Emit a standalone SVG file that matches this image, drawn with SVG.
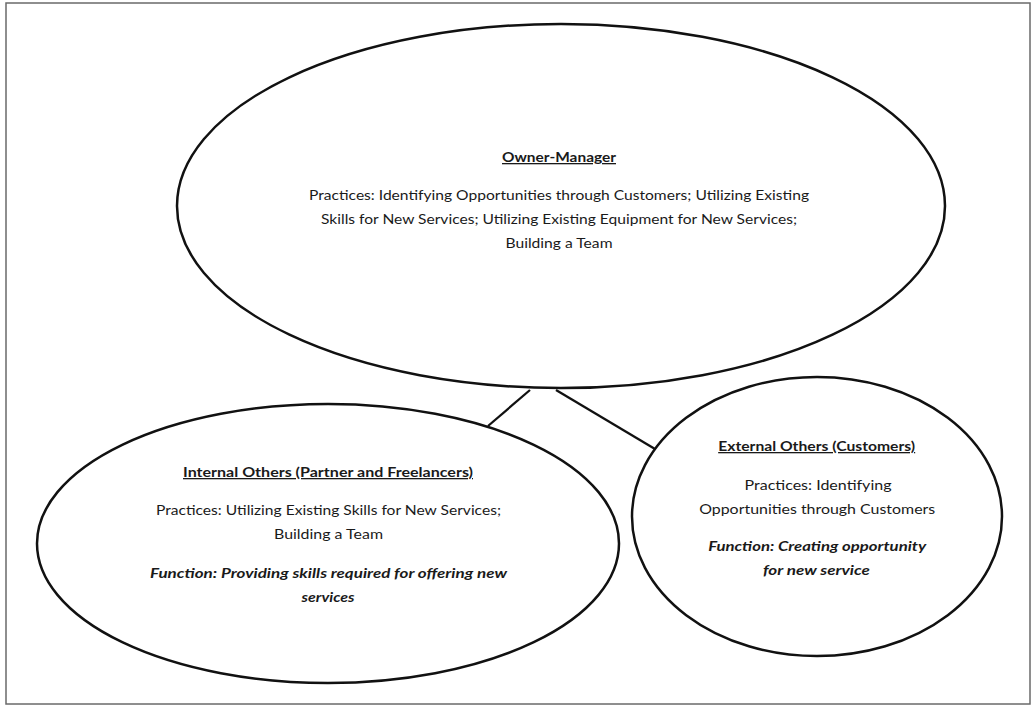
<svg xmlns="http://www.w3.org/2000/svg" width="1032" height="706" viewBox="0 0 1032 706">
<style>
.bg{fill:#fff}
.frame{fill:none;stroke:#6a6a6a;stroke-width:1.5}
.node{fill:#fff;stroke:#111;stroke-width:2.5}
.conn{stroke:#111;stroke-width:2.3;fill:none}
text{font-family:"Lato","Open Sans","Liberation Sans",sans-serif;font-size:13px;fill:#1a1a1a;text-anchor:middle}
.title{font-weight:bold;text-decoration:underline}
.fn{font-weight:bold;font-style:italic}
</style>
<rect class="bg" x="0" y="0" width="1032" height="706"/>
<rect class="frame" x="6" y="3" width="1024" height="701"/>
<g id="connectors">
<line class="conn" x1="530" y1="390" x2="488" y2="426"/>
<line class="conn" x1="556" y1="390" x2="655" y2="449"/>
</g>
<g id="owner-manager">
<ellipse class="node" cx="561" cy="206" rx="384" ry="182"/>
<text class="title" x="559" y="162" textLength="114" lengthAdjust="spacingAndGlyphs">Owner-Manager</text>
<text x="559" y="200" textLength="500" lengthAdjust="spacingAndGlyphs">Practices: Identifying Opportunities through Customers; Utilizing Existing</text>
<text x="559" y="224" textLength="476" lengthAdjust="spacingAndGlyphs">Skills for New Services; Utilizing Existing Equipment for New Services;</text>
<text x="559" y="248" textLength="107" lengthAdjust="spacingAndGlyphs">Building a Team</text>
</g>
<g id="internal-others">
<ellipse class="node" cx="328" cy="543.5" rx="291" ry="139.5"/>
<text class="title" x="328" y="477" textLength="290" lengthAdjust="spacingAndGlyphs">Internal Others (Partner and Freelancers)</text>
<text x="328.5" y="515" textLength="345" lengthAdjust="spacingAndGlyphs">Practices: Utilizing Existing Skills for New Services;</text>
<text x="328.5" y="539" textLength="109" lengthAdjust="spacingAndGlyphs">Building a Team</text>
<text class="fn" x="328.5" y="578" textLength="357" lengthAdjust="spacingAndGlyphs">Function: Providing skills required for offering new</text>
<text class="fn" x="328" y="602" textLength="53" lengthAdjust="spacingAndGlyphs">services</text>
</g>
<g id="external-others">
<ellipse class="node" cx="817" cy="516.5" rx="185" ry="139.5"/>
<text class="title" x="816.7" y="451" textLength="197" lengthAdjust="spacingAndGlyphs">External Others (Customers)</text>
<text x="818" y="490" textLength="147" lengthAdjust="spacingAndGlyphs">Practices: Identifying</text>
<text x="817.2" y="513.5" textLength="236" lengthAdjust="spacingAndGlyphs">Opportunities through Customers</text>
<text class="fn" x="817.2" y="551" textLength="218" lengthAdjust="spacingAndGlyphs">Function: Creating opportunity</text>
<text class="fn" x="816.4" y="574.5" textLength="107" lengthAdjust="spacingAndGlyphs">for new service</text>
</g>
</svg>
